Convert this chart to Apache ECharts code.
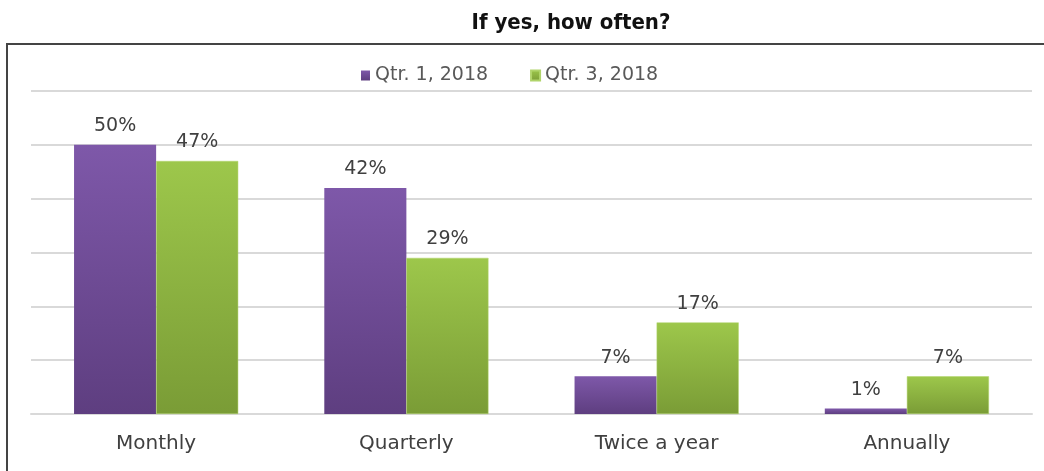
<!DOCTYPE html>
<html><head><meta charset="utf-8">
<script src="https://cdn.jsdelivr.net/npm/echarts@6/dist/echarts.min.js"></script>
<style>html,body{margin:0;padding:0;background:#fff}#c{width:1044px;height:471px}</style>
</head><body><div id="c"></div>
<script>
const categories = ['Monthly', 'Quarterly', 'Twice a year', 'Annually'];
const seriesNames = ['Qtr. 1, 2018', 'Qtr. 3, 2018'];
const q1Values = [50, 42, 7, 1];
const q3Values = [47, 29, 17, 7];
const axisMax = 60;
const axisInterval = 10;

const chart = echarts.init(document.getElementById('c'));
function grad(top, bottom) {
  return new echarts.graphic.LinearGradient(0, 0, 0, 1, [{offset: 0, color: top}, {offset: 1, color: bottom}]);
}
const labelStyle = {show: true, position: 'top', distance: 9, formatter: '{c}%', color: '#404040', fontSize: 19, fontFamily: 'DejaVu Sans'};
chart.setOption({
  animation: false,
  title: {text: 'If yes, how often?', left: 566, textAlign: 'center', top: 7,
    textStyle: {fontFamily: 'DejaVu Sans Condensed', fontWeight: 'bold', fontSize: 22, color: '#111'}},
  graphic: [{type: 'rect', shape: {x: 7, y: 44, width: 1060, height: 460}, style: {fill: 'none', stroke: '#444', lineWidth: 2}, silent: true}],
  legend: {data: seriesNames, left: 356, top: 61, icon: 'rect', itemWidth: 9, itemHeight: 10, itemGap: 42,
    textStyle: {fontFamily: 'DejaVu Sans', fontSize: 19, color: '#595959'}},
  grid: {left: 31, right: 12, top: 91, bottom: 57, containLabel: false},
  xAxis: {type: 'category', data: categories,
    axisLine: {show: true, lineStyle: {color: '#D9D9D9', width: 2}}, axisTick: {show: false},
    axisLabel: {color: '#404040', fontSize: 20, fontFamily: 'DejaVu Sans', margin: 20}},
  yAxis: {type: 'value', min: 0, max: axisMax, interval: axisInterval,
    axisLabel: {show: false}, axisLine: {show: false}, axisTick: {show: false},
    splitLine: {lineStyle: {color: '#D9D9D9', width: 2}}},
  series: [
    {name: seriesNames[0], type: 'bar', data: q1Values, barGap: '0%', barCategoryGap: '34.4%',
      itemStyle: {color: grad('#7E58A9', '#5E3E80')}, label: labelStyle},
    {name: seriesNames[1], type: 'bar', data: q3Values, barGap: '0%', barCategoryGap: '34.4%',
      itemStyle: {color: grad('#9DC74B', '#7A9C36'), borderColor: '#B0D46A', borderWidth: 0.5}, label: labelStyle}
  ]
});
</script></body></html>
